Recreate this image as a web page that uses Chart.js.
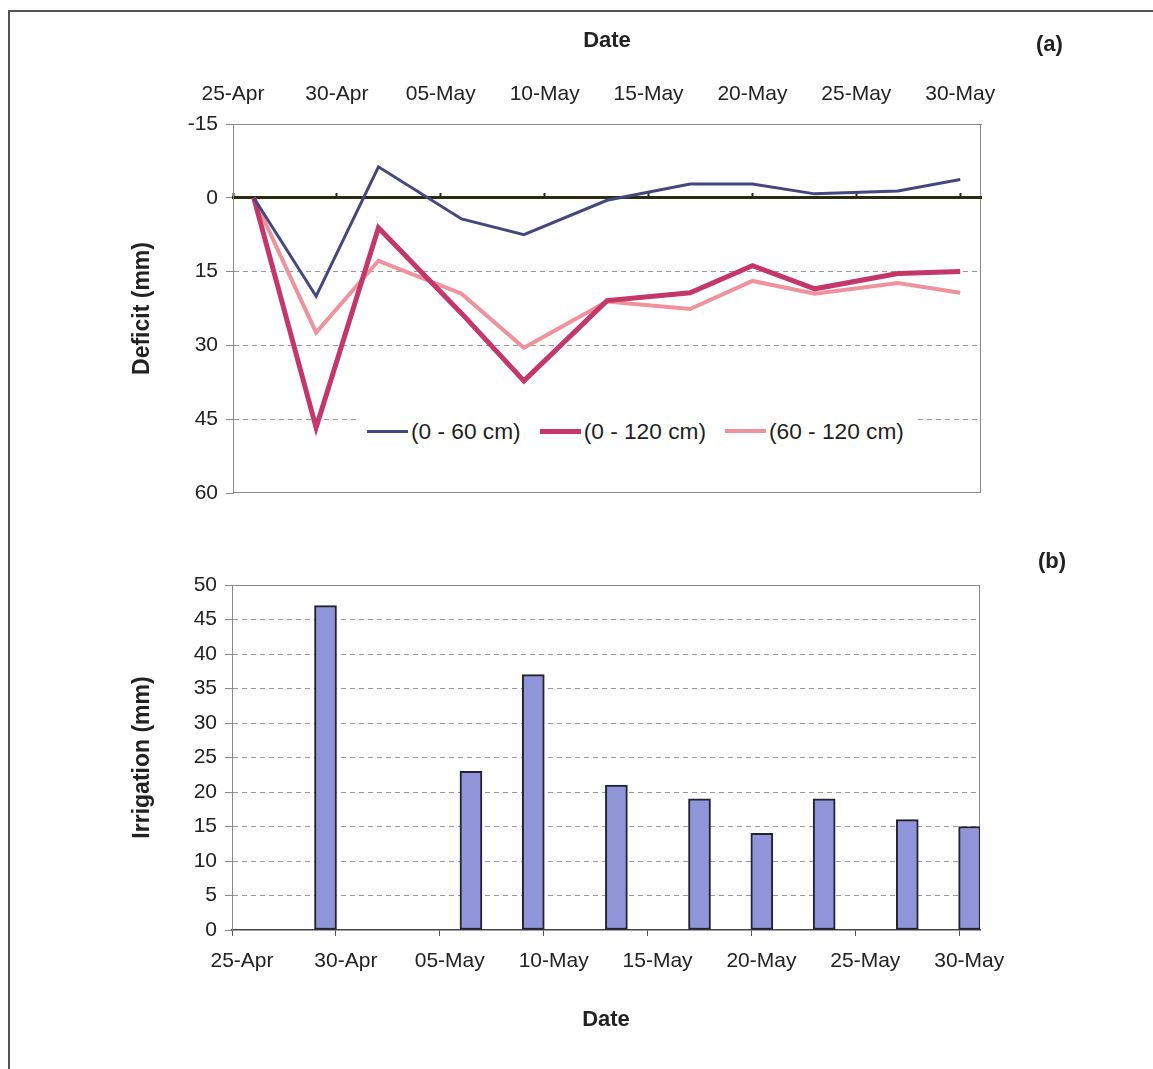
<!DOCTYPE html>
<html>
<head>
<meta charset="utf-8">
<script src="https://cdn.jsdelivr.net/npm/chart.js@4.4.1/dist/chart.umd.min.js"></script>
<style>
  body { margin: 0; background: #fff; font-family: 'Liberation Sans', Arial, sans-serif; }
  #wrap { position: relative; width: 1153px; height: 1069px; overflow: hidden; }
  #frame { position: absolute; left: 8px; top: 10px; width: 1200px; height: 1100px; border-left: 2px solid #555; border-top: 2px solid #555; }
  canvas { position: absolute; left: 0; }
  #deficitChart { top: 0; }
  #irrigationChart { top: 520px; }
  .panel { position: absolute; font-weight: bold; font-size: 22px; color: #222; }
  #legend { position: absolute; left: 360px; top: 416px; width: 558px; height: 30px; background: #fff;
            display: flex; align-items: center; font-size: 22.7px; color: #1e1e1e; z-index: 2; }
  #legend .item { display: flex; align-items: center; margin-left: 7px; margin-right: 12px; }
  #legend .swatch { width: 41px; margin-right: 3px; }
</style>
</head>
<body>
<div id="wrap">
  <div id="frame"></div>
  <canvas id="deficitChart" width="1153" height="520"></canvas>
  <canvas id="irrigationChart" width="1153" height="549"></canvas>
  <div class="panel" style="left:1036px; top:31px;">(a)</div>
  <div class="panel" style="left:1038px; top:548px;">(b)</div>
  <div id="legend"></div>
</div>
<script>
// soil water deficit (mm), one value per measuring date
const pointDates = ['26-Apr', '29-Apr', '02-May', '06-May', '09-May', '13-May', '17-May', '20-May', '23-May', '27-May', '30-May'];
const deficit0to60 = [0, 20, -6.3, 4.3, 7.5, 0.5, -2.8, -2.8, -0.8, -1.4, -3.7];
const deficit0to120 = [0, 46.7, 6.1, 23.5, 37.2, 20.9, 19.3, 13.8, 18.5, 15.4, 15.0];
const deficit60to120 = [0, 27.4, 12.8, 19.5, 30.5, 21.1, 22.6, 16.9, 19.5, 17.3, 19.3];

// irrigation applied (mm)
const irrigationDates = ['29-Apr', '06-May', '09-May', '13-May', '17-May', '20-May', '23-May', '27-May', '30-May'];
const irrigation = [47, 23, 37, 21, 19, 14, 19, 16, 15];

const dateTicks = ['25-Apr', '30-Apr', '05-May', '10-May', '15-May', '20-May', '25-May', '30-May'];
const deficitTicks = [-15, 0, 15, 30, 45, 60];
const irrigationMax = 50;

// days counted from 25-Apr
function dayOf(label) {
	var parts = label.split('-');
	var d = parseInt(parts[0], 10);
	return parts[1] == 'Apr' ? d - 25 : d + 5;
}

function toPoints(dates, values, shift) {
	return dates.map(function (d, i) {
		return { x: dayOf(d) + (shift || 0), y: values[i] };
	});
}

Chart.defaults.font.family = "'Liberation Sans', Arial, sans-serif";
Chart.defaults.font.size = 21;
Chart.defaults.color = '#222';

// plot area box (right and bottom edges too)
const frameBox = {
	id: 'frameBox',
	beforeDraw(chart) {
		const a = chart.chartArea;
		const ctx = chart.ctx;
		ctx.save();
		ctx.strokeStyle = '#8a8a8a';
		ctx.lineWidth = 1;
		ctx.strokeRect(a.left + 0.5, a.top + 0.5, a.right - a.left - 1, a.bottom - a.top - 1);
		ctx.restore();
	}
};

const tickLabel = function (v) {
	return dateTicks[v / 5] || '';
};

const deficitChart = new Chart(document.getElementById('deficitChart'), {
	type: 'line',
	data: {
		datasets: [{
			label: '(0 - 60 cm)',
			data: toPoints(pointDates, deficit0to60),
			borderColor: '#45477f',
			borderWidth: 3
		},
		{
			label: '(0 - 120 cm)',
			data: toPoints(pointDates, deficit0to120),
			borderColor: '#c5376a',
			borderWidth: 5
		},
		{
			label: '(60 - 120 cm)',
			data: toPoints(pointDates, deficit60to120),
			borderColor: '#f0929c',
			borderWidth: 4
		}]
	},
	options: {
		responsive: false,
		animation: false,
		layout: { padding: { left: 125, right: 172, top: 0, bottom: 27 } },
		elements: { point: { radius: 0 }, line: { tension: 0 } },
		plugins: { legend: { display: false }, tooltip: { enabled: false } },
		scales: {
			x: {
				type: 'linear',
				position: 'top',
				min: 0,
				max: 36,
				afterFit: function (s) { s.height = 124; },
				ticks: { stepSize: 5, includeBounds: false, maxRotation: 0, padding: 17, callback: tickLabel },
				grid: { drawOnChartArea: false, drawTicks: false },
				border: { color: '#8a8a8a', width: 1 },
				title: { display: true, text: 'Date', font: { weight: 'bold', size: 22 }, padding: { top: 28 } }
			},
			zero: {
				type: 'linear',
				axis: 'x',
				position: { y: 0 },
				min: 0,
				max: 36,
				ticks: { display: false, stepSize: 5, includeBounds: false },
				grid: { drawOnChartArea: false, tickLength: -6, tickWidth: 2, tickColor: '#2b2b12' },
				border: { color: '#2b2b12', width: 3 }
			},
			y: {
				reverse: true,
				min: deficitTicks[0],
				max: deficitTicks[deficitTicks.length - 1],
				afterFit: function (s) { s.width = 108; },
				ticks: { stepSize: 15, padding: 8 },
				grid: {
					tickLength: 7,
					tickColor: '#8a8a8a',
					color: function (c) {
						var v = c.tick ? c.tick.value : null;
						return (v == 15 || v == 30 || v == 45) ? '#9a9a9a' : 'rgba(0,0,0,0)';
					}
				},
				border: { color: '#8a8a8a', width: 1, dash: [5, 4] },
				title: { display: true, text: 'Deficit (mm)', font: { weight: 'bold', size: 23 }, padding: { top: 4 } }
			}
		}
	},
	plugins: [frameBox]
});

new Chart(document.getElementById('irrigationChart'), {
	type: 'bar',
	data: {
		datasets: [{
			label: 'Irrigation',
			// each day's bar sits in the middle of its day slot
			data: toPoints(irrigationDates, irrigation, 0.5),
			backgroundColor: '#9094d8',
			borderColor: '#222230',
			borderWidth: 2,
			borderSkipped: false,
			barThickness: 22
		}]
	},
	options: {
		responsive: false,
		animation: false,
		layout: { padding: { left: 125, right: 173, top: 65, bottom: 0 } },
		plugins: { legend: { display: false }, tooltip: { enabled: false } },
		scales: {
			x: {
				type: 'linear',
				offset: false,
				min: 0,
				max: 36,
				afterFit: function (s) { s.height = 139; },
				ticks: { stepSize: 5, includeBounds: false, maxRotation: 0, padding: 13, labelOffset: 10, callback: tickLabel },
				grid: { offset: false, drawOnChartArea: false, tickLength: 6, tickColor: '#555' },
				border: { color: '#444', width: 1.5 },
				title: { display: true, text: 'Date', font: { weight: 'bold', size: 22 }, padding: { bottom: 36 } }
			},
			y: {
				min: 0,
				max: irrigationMax,
				afterFit: function (s) { s.width = 107; },
				ticks: { stepSize: 5, padding: 8 },
				grid: {
					tickLength: 7,
					tickColor: '#8a8a8a',
					color: function (c) {
						var v = c.tick ? c.tick.value : null;
						return (v > 0 && v < irrigationMax) ? '#9a9a9a' : 'rgba(0,0,0,0)';
					}
				},
				border: { color: '#8a8a8a', width: 1, dash: [5, 4] },
				title: { display: true, text: 'Irrigation (mm)', font: { weight: 'bold', size: 23 }, padding: { top: 4 } }
			}
		}
	},
	plugins: [frameBox]
});

// legend sits inside the plot area, like the original
var legendBox = document.getElementById('legend');
deficitChart.data.datasets.forEach(function (ds) {
	var item = document.createElement('div');
	item.className = 'item';
	var sw = document.createElement('span');
	sw.className = 'swatch';
	sw.style.height = ds.borderWidth + 'px';
	sw.style.background = ds.borderColor;
	var txt = document.createElement('span');
	txt.textContent = ds.label;
	item.appendChild(sw);
	item.appendChild(txt);
	legendBox.appendChild(item);
});
</script>
</body>
</html>
